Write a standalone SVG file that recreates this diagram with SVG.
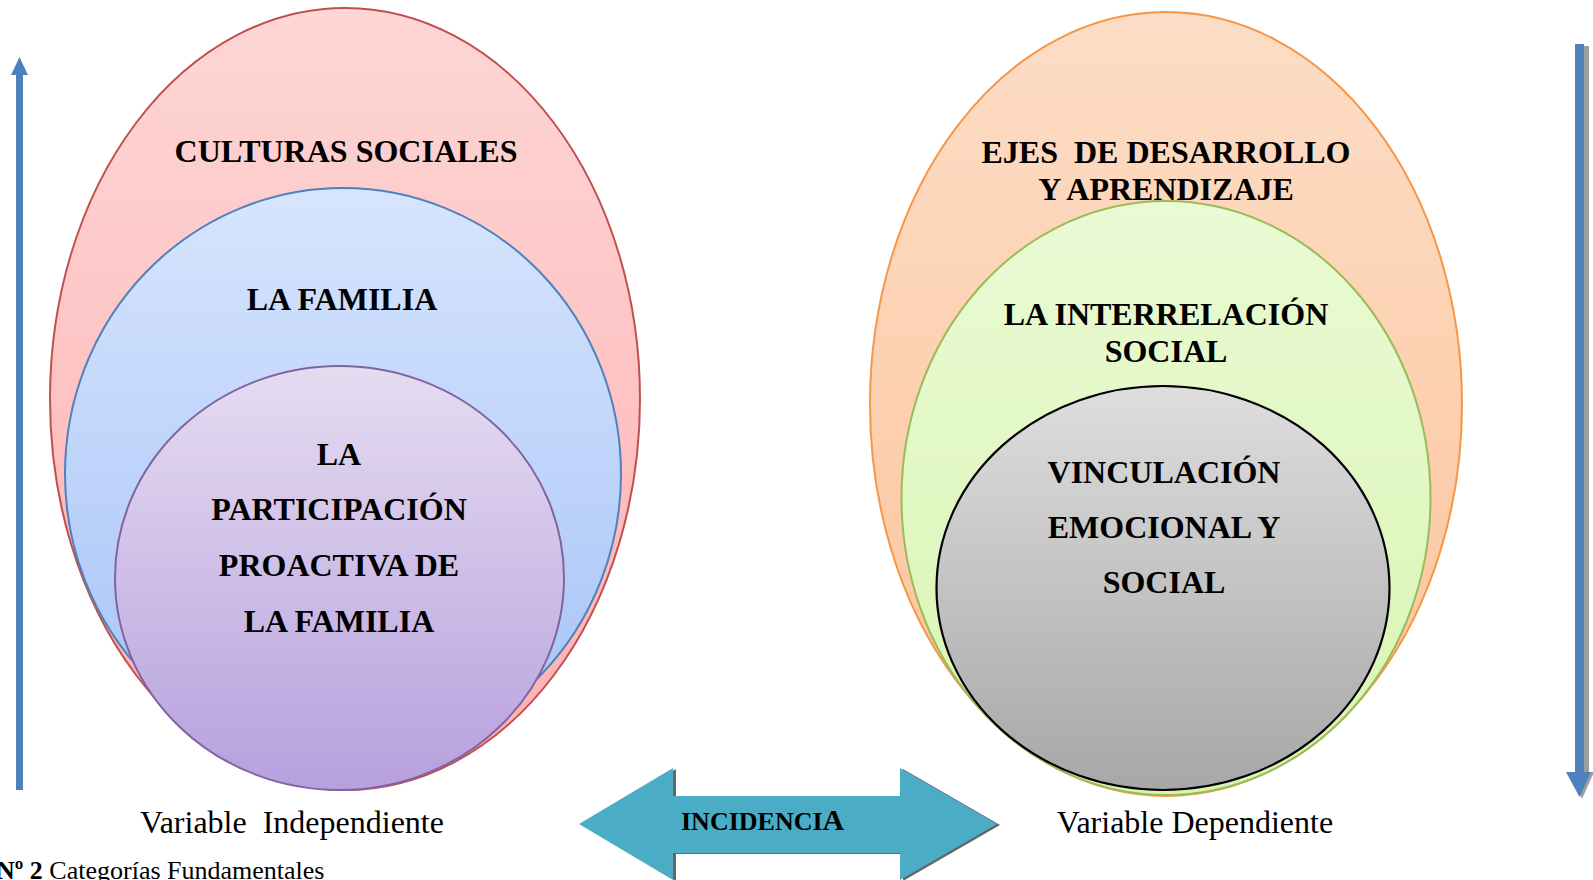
<svg xmlns="http://www.w3.org/2000/svg" width="1593" height="880" viewBox="0 0 1593 880">
<defs>
<linearGradient id="gRed" x1="0" y1="0" x2="0" y2="1"><stop offset="0" stop-color="#FDD6D6"/><stop offset="1" stop-color="#FFAFAF"/></linearGradient>
<linearGradient id="gBlue" x1="0" y1="0" x2="0" y2="1"><stop offset="0" stop-color="#D7E5FE"/><stop offset="1" stop-color="#A5C2F6"/></linearGradient>
<linearGradient id="gPurple" x1="0" y1="0" x2="0" y2="1"><stop offset="0" stop-color="#E5DCF1"/><stop offset="1" stop-color="#B7A0DD"/></linearGradient>
<linearGradient id="gOrange" x1="0" y1="0" x2="0" y2="1"><stop offset="0" stop-color="#FDDDC6"/><stop offset="1" stop-color="#FCC39A"/></linearGradient>
<linearGradient id="gGreen" x1="0" y1="0" x2="0" y2="1"><stop offset="0" stop-color="#EAFAD4"/><stop offset="1" stop-color="#D8F5B2"/></linearGradient>
<linearGradient id="gGray" x1="0" y1="0" x2="0" y2="1"><stop offset="0" stop-color="#DEDEDE"/><stop offset="1" stop-color="#A7A7A7"/></linearGradient>
</defs>
<style>
.t{font-family:"Liberation Serif","Times New Roman",serif;font-weight:bold;font-size:32px;fill:#000;text-anchor:middle;white-space:pre}
.n{font-family:"Liberation Serif","Times New Roman",serif;font-size:32px;fill:#000;text-anchor:middle;white-space:pre}
.c{font-family:"Liberation Serif","Times New Roman",serif;font-size:26px;fill:#000}
.v{fill:#4F81BD}
</style>
<g id="left-axis"><rect class="v" x="16" y="72" width="7" height="718"/><polygon class="v" points="19.5,57 28,75 11,75"/></g>
<g id="right-axis"><rect fill="#9E9E9E" x="1580" y="46" width="9" height="728"/><polygon fill="#9E9E9E" points="1569,772 1594,772 1582,799"/><rect class="v" x="1575" y="44" width="9" height="730"/><polygon class="v" points="1566,772 1591,772 1579.5,797"/></g>
<g id="culturas-sociales"><ellipse cx="345" cy="399" rx="295" ry="391" fill="url(#gRed)" stroke="#C0504D" stroke-width="2"/><text class="t" x="346" y="162">CULTURAS SOCIALES</text></g>
<g id="la-familia"><ellipse cx="343" cy="474" rx="278" ry="286" fill="url(#gBlue)" stroke="#4F81BD" stroke-width="2"/><text class="t" x="342" y="310">LA FAMILIA</text></g>
<g id="participacion"><ellipse cx="339.5" cy="578" rx="224.5" ry="212" fill="url(#gPurple)" stroke="#8064A2" stroke-width="2"/><text class="t" x="339" y="465">LA</text><text class="t" x="339" y="520">PARTICIPACIÓN</text><text class="t" x="339" y="576">PROACTIVA DE</text><text class="t" x="339" y="632">LA FAMILIA</text></g>
<g id="ejes"><ellipse cx="1166" cy="404" rx="296" ry="392" fill="url(#gOrange)" stroke="#F79646" stroke-width="2"/><text class="t" x="1166" y="163">EJES  DE DESARROLLO</text><text class="t" x="1166" y="200">Y APRENDIZAJE</text></g>
<g id="interrelacion"><ellipse cx="1166" cy="498" rx="264.5" ry="297" fill="url(#gGreen)" stroke="#9BBB59" stroke-width="2"/><text class="t" x="1166" y="325">LA INTERRELACIÓN</text><text class="t" x="1166" y="362">SOCIAL</text></g>
<g id="vinculacion"><ellipse cx="1163" cy="588" rx="226.5" ry="202" fill="url(#gGray)" stroke="#000" stroke-width="2.2"/><text class="t" x="1164" y="483">VINCULACIÓN</text><text class="t" x="1164" y="538">EMOCIONAL Y</text><text class="t" x="1164" y="593">SOCIAL</text></g>
<g id="labels"><text class="n" x="292" y="833">Variable  Independiente</text><text class="n" x="1195" y="833">Variable Dependiente</text></g>
<g id="connectors"><g id="incidencia"><polygon fill="#666" points="582,825 676,769 676,797 903,797 903,769 1000,825 903,881 903,854 676,854 676,881"/><polygon fill="#4BACC6" points="579,824 673,768 673,796 900,796 900,768 997,824 900,880 900,853 673,853 673,880"/><text x="681" y="830" style="font-family:'Liberation Serif','Times New Roman',serif;font-weight:bold;font-size:26px;fill:#000">INCIDENCI<tspan font-size="30">A</tspan></text></g></g>
<g id="caption"><text class="c" x="-4" y="879"><tspan font-weight="bold">Nº 2</tspan> Categorías Fundamentales</text></g>
</svg>
